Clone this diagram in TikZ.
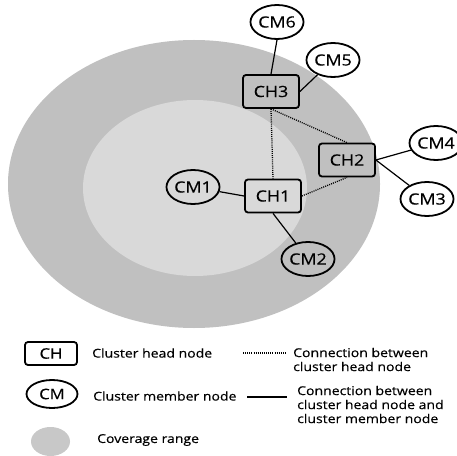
\documentclass[tikz,border=0pt]{standalone}
\usepackage{fontspec}
\setmainfont{Open Sans}[FakeStretch=1.15,FakeBold=0.35]
\usetikzlibrary{shapes.geometric}
\definecolor{outerg}{RGB}{192,192,192}
\definecolor{innerg}{RGB}{217,217,217}
\definecolor{legg}{RGB}{200,200,200}
\begin{document}
\begin{tikzpicture}[x=1bp,y=-1bp,
  chbox/.style={draw,rounded corners=3bp,line width=1.8bp,minimum width=56bp,minimum height=33bp,inner sep=0pt,font=\fontsize{15.5bp}{17bp}\selectfont},
  cmnode/.style={draw,ellipse,line width=1.8bp,minimum width=42bp,minimum height=34bp,inner sep=0pt,font=\fontsize{15.5bp}{17bp}\selectfont},
  cmlink/.style={line width=1.2bp},
  chlink/.style={line width=1.3bp,dash pattern=on 1bp off 1.1bp},
  legtext/.style={anchor=west,inner sep=0pt,align=left,font=\fontsize{12.2bp}{14bp}\selectfont}]
\useasboundingbox (0,0) rectangle (457,456);
\fill[white] (0,0) rectangle (457,456);
% coverage areas
\fill[outerg] (194,184) ellipse [x radius=186, y radius=144];
\fill[innerg] (195,188) ellipse [x radius=112, y radius=88];
% cluster heads
\node[chbox] (CH3) at (271,91.5) {CH3};
\node[chbox] (CH2) at (347,160) {CH2};
\node[chbox] (CH1) at (273,196) {CH1};
% cluster members
\node[cmnode] (CM6) at (277,22) {CM6};
\node[cmnode] (CM5) at (333,60) {CM5};
\node[cmnode] (CM4) at (436,143) {CM4};
\node[cmnode] (CM3) at (427,199) {CM3};
\node[cmnode] (CM1) at (193,187) {CM1};
\node[cmnode] (CM2) at (308,259) {CM2};
% member links
\draw[cmlink] (CH3.north) -- (CM6.south);
\draw[cmlink] (CH3.east) -- (CM5);
\draw[cmlink] (CH2.east) -- (CM4);
\draw[cmlink] (CH2.east) -- (CM3);
\draw[cmlink] (CH1.west) -- (CM1);
\draw[cmlink] (CH1.south) -- (CM2);
% head links
\draw[chlink] (CH3.south) -- (CH1.north);
\draw[chlink] (CH3.south) -- (CH2.north);
\draw[chlink] (CH1.east) -- (CH2.south);
% legend
\node[chbox,fill=white,minimum width=52bp,minimum height=23bp,font=\fontsize{14.5bp}{16bp}\selectfont] (LCH) at (51,353.5) {CH};
\node[cmnode,fill=white,minimum width=51bp,minimum height=28bp,font=\fontsize{14.5bp}{16bp}\selectfont] (LCM) at (52,394) {CM};
\node[ellipse,fill=legg,minimum width=39bp,minimum height=29bp,inner sep=0pt] (LCOV) at (50.5,441.5) {};
\node[legtext] (T1) at (92,353) {Cluster head node};
\node[legtext] (T2) at (93,396) {Cluster member node};
\node[legtext] (T3) at (97,440) {Coverage range};
\coordinate (D1) at (243,353);
\coordinate (D2) at (287,353);
\draw[chlink] (D1) -- (D2);
\coordinate (S1) at (247,397);
\coordinate (S2) at (287,397);
\draw[line width=1.3bp] (S1) -- (S2);
\node[legtext] (T4) at (293,359.5) {Connection between\\cluster head node};
\node[legtext] (T5) at (297,404.5) {Connection between\\cluster head node and\\cluster member node};
\end{tikzpicture}
\end{document}
